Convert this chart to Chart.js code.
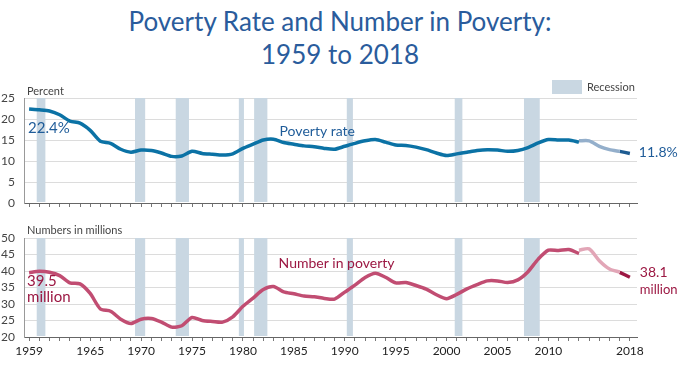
<!DOCTYPE html>
<html>
<head>
<meta charset="utf-8">
<script src="https://cdn.jsdelivr.net/npm/chart.js@4.4.1/dist/chart.umd.min.js"></script>
<style>
    body { margin: 0; width: 680px; height: 365px; background: #fff; font-family: Lato, sans-serif; position: relative; overflow: hidden; }
    #title { position: absolute; top: 5px; left: 0; width: 680px; text-align: center; color: #2a5c9c; font-size: 26px; line-height: 33px; }
    .box { position: absolute; left: 0; width: 680px; }
</style>
</head>
<body>
<div id="title">Poverty Rate and Number in Poverty:<br>1959 to 2018</div>
<div class="box" style="top:70px;height:150px"><canvas id="rateChart"></canvas></div>
<div class="box" style="top:220px;height:145px"><canvas id="numChart"></canvas></div>
<script>
// years for the continuous series (1959-2013)
const mainYears = [1959, 1960, 1961, 1962, 1963, 1964, 1965, 1966, 1967, 1968, 1969,
    1970, 1971, 1972, 1973, 1974, 1975, 1976, 1977, 1978, 1979,
    1980, 1981, 1982, 1983, 1984, 1985, 1986, 1987, 1988, 1989,
    1990, 1991, 1992, 1993, 1994, 1995, 1996, 1997, 1998, 1999,
    2000, 2001, 2002, 2003, 2004, 2005, 2006, 2007, 2008, 2009,
    2010, 2011, 2012, 2013];
const redesignYears = [2013, 2014, 2015, 2016, 2017];
const latestYears = [2017, 2018];

// poverty rate, percent
const rateMain = [22.4, 22.2, 21.9, 21.0, 19.5, 19.0, 17.3, 14.7, 14.2, 12.8, 12.1,
    12.6, 12.5, 11.9, 11.1, 11.2, 12.3, 11.8, 11.6, 11.4, 11.7,
    13.0, 14.0, 15.0, 15.2, 14.4, 14.0, 13.6, 13.4, 13.0, 12.8,
    13.5, 14.2, 14.8, 15.1, 14.5, 13.8, 13.7, 13.3, 12.7, 11.9,
    11.3, 11.7, 12.1, 12.5, 12.7, 12.6, 12.3, 12.5, 13.2, 14.3,
    15.1, 15.0, 15.0, 14.5];
const rateRedesign = [14.8, 14.8, 13.5, 12.7, 12.3];
const rateLatest = [12.3, 11.8];

// number in poverty, millions
const numMain = [39.5, 39.9, 39.6, 38.6, 36.4, 36.1, 33.2, 28.5, 27.8, 25.4, 24.1,
    25.4, 25.6, 24.5, 23.0, 23.4, 25.9, 25.0, 24.7, 24.5, 26.1,
    29.3, 31.8, 34.4, 35.3, 33.7, 33.1, 32.4, 32.2, 31.7, 31.5,
    33.6, 35.7, 38.0, 39.3, 38.1, 36.4, 36.5, 35.6, 34.5, 32.8,
    31.6, 32.9, 34.6, 35.9, 37.0, 37.0, 36.5, 37.3, 39.8, 43.6,
    46.3, 46.2, 46.5, 45.3];
const numRedesign = [46.3, 46.7, 43.1, 40.6, 39.7];
const numLatest = [39.6, 38.1];

// recession periods (plotted year units)
const recessions = [[1959.75, 1960.6], [1969.4, 1970.4], [1973.4, 1974.7], [1979.6, 1980.1],
    [1981.1, 1982.4], [1990.2, 1990.8], [2000.8, 2001.55], [2007.6, 2009.15]];

// x axis
const tickYears = mainYears.concat([2014, 2015, 2016, 2017, 2018]);
const labelYears = [1959, 1965, 1970, 1975, 1980, 1985, 1990, 1995, 2000, 2005, 2010, 2018];

const FONT = 'Lato, sans-serif';

function pts(xs, ys) {
    return xs.map((x, i) => ({ x: x, y: ys[i] }));
}

function line(xs, ys, color) {
    return { data: pts(xs, ys), borderColor: color, borderWidth: 3.5, pointRadius: 0, tension: 0.25, fill: false };
}

const recessionShade = {
    id: 'recessionShade',
    beforeDatasetsDraw(chart) {
        const { ctx, chartArea, scales } = chart;
        ctx.save();
        ctx.fillStyle = '#c9d7e2';
        recessions.forEach(r => {
            const x0 = scales.x.getPixelForValue(r[0]);
            const x1 = scales.x.getPixelForValue(r[1]);
            ctx.fillRect(x0, chartArea.top, x1 - x0, chartArea.bottom - chartArea.top - 1);
        });
        ctx.restore();
    }
};

function xScale(showLabels) {
    return {
        type: 'linear',
        min: 1958.5,
        max: 2018.7,
        afterBuildTicks: s => { s.ticks = tickYears.map(v => ({ value: v })); },
        afterFit: s => { s.height = showLabels ? 28 : 17; },
        grid: { drawOnChartArea: false, drawTicks: true, tickLength: 4, color: '#777' },
        border: { color: '#666' },
        ticks: {
            display: showLabels,
            autoSkip: false,
            maxRotation: 0,
            padding: 3,
            color: '#222',
            font: { family: FONT, size: 12 },
            callback: v => labelYears.includes(v) ? String(v) : ''
        }
    };
}

function yScale(min, max) {
    return {
        min: min,
        max: max,
        afterFit: s => { s.width = 24; },
        grid: { drawTicks: false, color: c => c.tick.value === min ? '#666' : '#dcdcdc' },
        border: { color: '#999' },
        ticks: { stepSize: 5, autoSkip: false, padding: 9, color: '#444', font: { family: FONT, size: 12 } }
    };
}

function text(ctx, str, x, y, color, size, align) {
    ctx.fillStyle = color;
    ctx.font = size + 'px ' + FONT;
    ctx.textAlign = align || 'left';
    ctx.textBaseline = 'middle';
    ctx.fillText(str, x, y);
}

// Poverty rate chart
new Chart(document.getElementById('rateChart'), {
    type: 'line',
    data: {
        datasets: [
            line(mainYears, rateMain, '#0b72a5'),
            line(redesignYears, rateRedesign, '#94afcb'),
            line(latestYears, rateLatest, '#1e5b91')
        ]
    },
    options: {
        responsive: true,
        maintainAspectRatio: false,
        animation: false,
        layout: { padding: { top: 28, right: 43, left: 0, bottom: 0 } },
        plugins: { legend: { display: false }, tooltip: { enabled: false } },
        scales: { x: xScale(false), y: yScale(0, 25) }
    },
    plugins: [recessionShade, {
        id: 'rateText',
        afterDraw(chart) {
            const { ctx, chartArea, scales: { x, y } } = chart;
            ctx.save();
            text(ctx, 'Percent', chartArea.left + 3, chartArea.top - 7, '#444', 11);
            // legend
            ctx.fillStyle = '#c9d7e2';
            ctx.fillRect(552, 10, 30, 14);
            text(ctx, 'Recession', 587, 17, '#444', 11);
            const blue = '#1f5c99';
            text(ctx, '22.4%', x.getPixelForValue(1959) - 1, y.getPixelForValue(rateMain[0]) + 19, blue, 15);
            text(ctx, 'Poverty rate', x.getPixelForValue(1983.6), y.getPixelForValue(17), blue, 14);
            text(ctx, '11.8%', x.getPixelForValue(2018) + 9, y.getPixelForValue(rateLatest[1]) - 1, blue, 14);
            ctx.restore();
        }
    }]
});

// Number in poverty chart
new Chart(document.getElementById('numChart'), {
    type: 'line',
    data: {
        datasets: [
            line(mainYears, numMain, '#c14d72'),
            line(redesignYears, numRedesign, '#e2a6b7'),
            line(latestYears, numLatest, '#9c1843')
        ]
    },
    options: {
        responsive: true,
        maintainAspectRatio: false,
        animation: false,
        layout: { padding: { top: 18, right: 43, left: 0, bottom: 0 } },
        plugins: { legend: { display: false }, tooltip: { enabled: false } },
        scales: { x: xScale(true), y: yScale(20, 50) }
    },
    plugins: [recessionShade, {
        id: 'numText',
        afterDraw(chart) {
            const { ctx, chartArea, scales: { x, y } } = chart;
            ctx.save();
            text(ctx, 'Numbers in millions', chartArea.left + 3, chartArea.top - 8, '#444', 11);
            const red = '#9c1843';
            const x0 = x.getPixelForValue(1959) - 2;
            const y0 = y.getPixelForValue(numMain[0]);
            text(ctx, '39.5', x0, y0 + 9, red, 15);
            text(ctx, 'million', x0, y0 + 25, red, 15);
            text(ctx, 'Number in poverty', x.getPixelForValue(1983.5), y.getPixelForValue(42.4), red, 14);
            const x1 = x.getPixelForValue(2018) + 10;
            const y1 = y.getPixelForValue(numLatest[1]);
            text(ctx, '38.1', x1, y1 - 5, red, 14);
            text(ctx, 'million', x1, y1 + 13, red, 13);
            ctx.restore();
        }
    }]
});
</script>
</body>
</html>
